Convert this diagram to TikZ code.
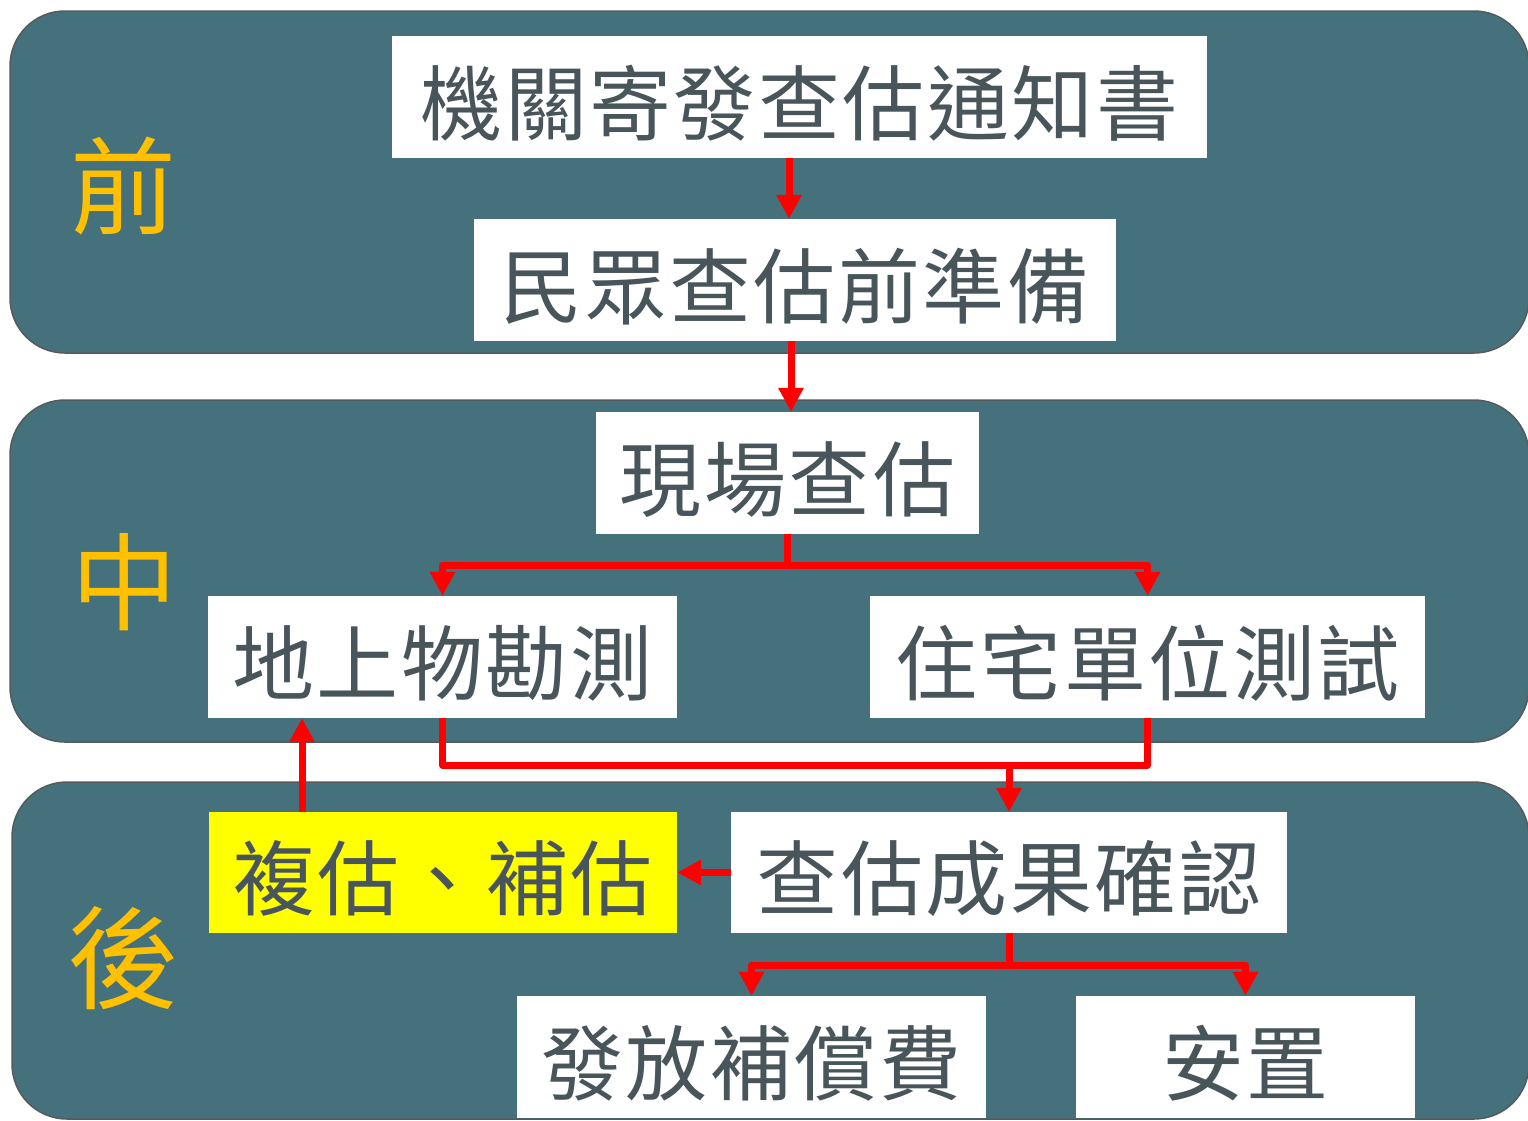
\documentclass[tikz,border=0pt]{standalone}
\usepackage{fontspec}
\setmainfont{Noto Sans CJK TC}
\usetikzlibrary{arrows.meta}
\definecolor{panel}{HTML}{44717B}
\definecolor{panelborder}{HTML}{545A5D}
\definecolor{txt}{HTML}{48555A}
\definecolor{gold}{HTML}{FFC000}
\definecolor{hiyellow}{HTML}{FFFF00}
\newcommand{\dn}[1]{{\addfontfeature{LetterSpace=3}#1}}
\tikzset{
  panelbox/.style={draw=panelborder, line width=1.5pt, fill=panel, rounded corners=55pt},
  stepbox/.style={fill=white, text=txt, inner sep=0pt, anchor=center,
    text height=74pt, text depth=0pt,
    font=\fontsize{82}{90}\selectfont},
  phase/.style={text=gold, inner sep=0pt, font=\fontsize{106}{110}\selectfont},
  con/.style={red, line width=7pt, line join=round},
  arr/.style={con, -{Triangle[length=24pt,width=24pt]}}
}
\begin{document}
\begin{tikzpicture}[x=1pt,y=-1pt]
\useasboundingbox (0,0) rectangle (1528,1120);
\fill[white] (0,0) rectangle (1528,1120);
% panels
\path[panelbox] (10,11) rectangle (1529,353);
\path[panelbox] (10,400) rectangle (1529,742);
\path[panelbox] (12,782) rectangle (1529,1119);
% phase labels
\node[phase] (pre) at (123,186) {前};
\node[phase] (mid) at (124,582) {中};
\node[phase, font=\fontsize{112}{116}\selectfont] (post) at (123,958) {後};
% steps
\node[stepbox, minimum width=815pt, minimum height=122pt] (b1) at (799.5,97) {\dn{機關寄發查估通知書}};
\node[stepbox, minimum width=642pt, minimum height=122pt] (b2) at (795,280) {\dn{民眾查估前準備}};
\node[stepbox, minimum width=383pt, minimum height=122pt] (b3) at (787.5,473) {\dn{現場查估}};
\node[stepbox, minimum width=469pt, minimum height=122pt] (b4) at (442.5,657) {\dn{地上物勘測}};
\node[stepbox, minimum width=555pt, minimum height=122pt] (b5) at (1147.5,657) {\dn{住宅單位測試}};
\node[stepbox, fill=hiyellow, minimum width=468pt, minimum height=121pt] (b6) at (443,872.5) {\dn{複估、補估}};
\node[stepbox, minimum width=556pt, minimum height=121pt] (b7) at (1009,872.5) {\dn{查估成果確認}};
\node[stepbox, minimum width=469pt, minimum height=122pt] (b8) at (751.5,1057) {\dn{發放補償費}};
\node[stepbox, minimum width=339pt, minimum height=122pt] (b9) at (1245.5,1057) {\dn{安置}};
% connectors
\draw[arr] ([xshift=-10.5pt]b1.south) -- ([xshift=-6pt]b2.north);
\draw[arr] ([xshift=-4pt]b2.south) -- ([xshift=3.5pt]b3.north);
\draw[arr] (b3.south) -- ++(0,31) -| (b4.north);
\draw[arr] (b3.south) -- ++(0,31) -| (b5.north);
\draw[con] (b4.south) -- ++(0,47) -| (b5.south);
\draw[arr] ([yshift=47pt]b7.north) -- (b7.north);
\draw[arr] (b7.west) -- (b6.east);
\draw[arr] ([xshift=-141pt]b6.north) -- ([xshift=-141pt]b6.north |- b4.south);
\draw[arr] (b7.south) -- ++(0,32) -| (b8.north);
\draw[arr] (b7.south) -- ++(0,32) -| (b9.north);
\end{tikzpicture}
\end{document}
